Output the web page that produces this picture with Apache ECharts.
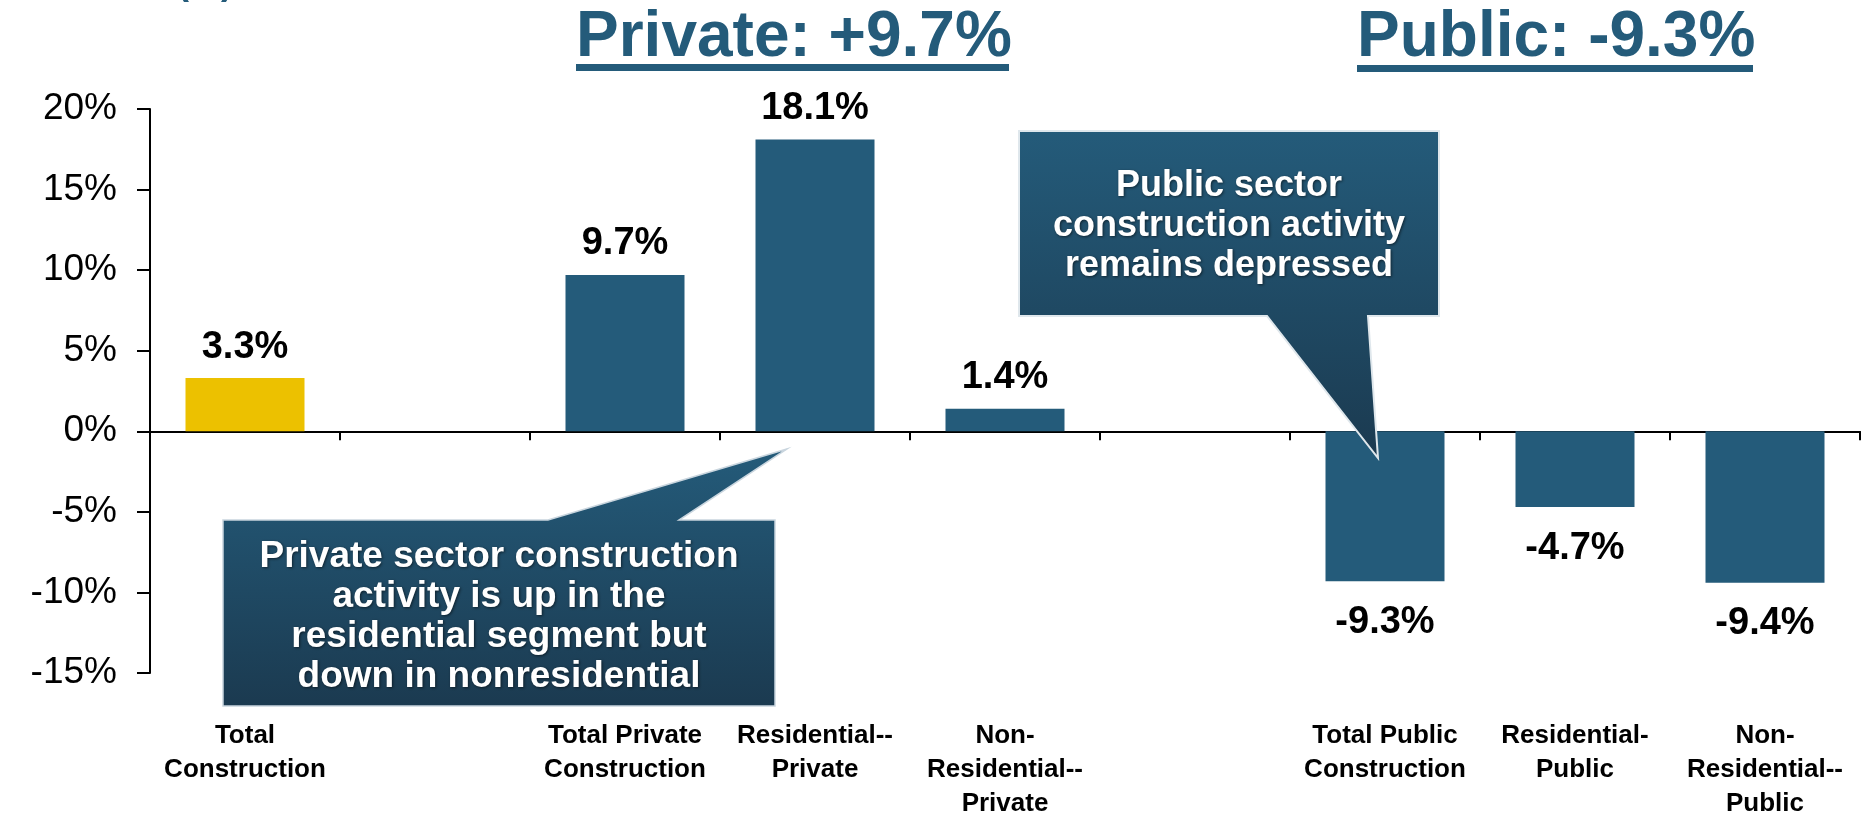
<!DOCTYPE html>
<html>
<head>
<meta charset="utf-8">
<title>Construction spending growth</title>
<script src="https://cdn.jsdelivr.net/npm/echarts@6/dist/echarts.min.js"></script>
<style>
  html, body { margin: 0; padding: 0; background: #fff; }
  #chart { width: 1866px; height: 814px; }
</style>
</head>
<body>
<div id="chart"></div>
<script>
  // data
  var categories = ['Total Construction', 'gap1', 'Total Private Construction', 'Residential--Private',
    'Non-Residential--Private', 'gap2', 'Total Public Construction', 'Residential-Public', 'Non-Residential--Public']
  var tickLabels = ['Total\nConstruction', '', 'Total Private\nConstruction', 'Residential--\nPrivate',
    'Non-\nResidential--\nPrivate', '', 'Total Public\nConstruction', 'Residential-\nPublic', 'Non-\nResidential--\nPublic']
  var growth = [3.3, null, 9.7, 18.1, 1.4, null, -9.3, -4.7, -9.4]
  var yTicks = [-15, -10, -5, 0, 5, 10, 15, 20]
  var headlines = ['Private: +9.7%', 'Public: -9.3%']
  var privateNote = 'Private sector construction\nactivity is up in the\nresidential segment but\ndown in nonresidential'
  var publicNote = 'Public sector\nconstruction activity\nremains depressed'

  var BLUE = '#245b7a'
  var YELLOW = '#ecc100'
  var FONT = '"Liberation Sans", Arial, sans-serif'

  var calloutFill = {
    type: 'linear', x: 0, y: 0, x2: 0, y2: 1,
    colorStops: [{ offset: 0, color: '#245b7a' }, { offset: 1, color: '#1b3a50' }]
  }
  function noteStyle(text, size) {
    return {
      text: text,
      fill: '#fff', font: 'bold ' + size + 'px ' + FONT, lineHeight: 40,
      textAlign: 'center', textVerticalAlign: 'middle',
      textShadowColor: 'rgba(0,0,0,0.55)', textShadowBlur: 3, textShadowOffsetX: 1, textShadowOffsetY: 1
    }
  }

  var chart = echarts.init(document.getElementById('chart'))

  chart.setOption({
    animation: false,
    backgroundColor: '#fff',
    // labels run to the bottom edge, so keep the grid where it is
    grid: { left: 150, right: 6, top: 109, bottom: 141, containLabel: false, outerBoundsMode: 'none' },
    xAxis: [
      {
        // zero line with the category ticks
        type: 'category',
        data: categories,
        position: 'top',
        axisLine: { show: true, onZero: true, lineStyle: { color: '#000', width: 2 } },
        axisTick: { show: true, inside: true, length: 9, interval: 0, lineStyle: { color: '#000', width: 2 } },
        axisLabel: { show: false },
        splitLine: { show: false }
      },
      {
        // category names sit below the plot
        type: 'category',
        data: categories,
        position: 'bottom',
        axisLine: { show: false, onZero: false },
        axisTick: { show: false },
        axisLabel: {
          show: true, interval: 0, margin: 46,
          color: '#000', fontFamily: FONT, fontWeight: 'bold', fontSize: 26, lineHeight: 34,
          formatter: function (v, i) { return tickLabels[i] }
        },
        splitLine: { show: false }
      }
    ],
    yAxis: {
      type: 'value',
      min: yTicks[0],
      max: yTicks[yTicks.length - 1],
      interval: yTicks[1] - yTicks[0],
      axisLine: { show: true, lineStyle: { color: '#000', width: 2 } },
      axisTick: { show: true, length: 13, lineStyle: { color: '#000', width: 2 } },
      axisLabel: { margin: 33, color: '#000', fontFamily: FONT, fontSize: 37, formatter: '{value}%' },
      splitLine: { show: false }
    },
    series: [
      {
        type: 'bar',
        xAxisIndex: 0,
        barWidth: 119,
        data: growth.map(function (v, i) {
          if (v === null) return '-'
          return {
            value: v,
            itemStyle: { color: i === 0 ? YELLOW : BLUE },
            label: { position: v < 0 ? 'bottom' : 'top', distance: v < 0 ? 22 : 12 }
          }
        }),
        label: {
          show: true,
          color: '#000', fontFamily: FONT, fontWeight: 'bold', fontSize: 38,
          formatter: function (p) { return p.value.toFixed(1) + '%' }
        }
      }
    ],
    graphic: [
      // cut-off unit note at the very top
      { type: 'text', left: 177, top: -34, z: 50,
        style: { text: '(%)', fill: BLUE, font: 'bold 36px ' + FONT } },
      // group headlines
      { type: 'text', x: 576, y: 38, z: 50,
        style: { text: headlines[0], fill: BLUE, font: 'bold 64px ' + FONT, textVerticalAlign: 'middle' } },
      { type: 'rect', shape: { x: 576, y: 64, width: 433, height: 7 }, style: { fill: BLUE }, z: 50 },
      { type: 'text', x: 1357, y: 38, z: 50,
        style: { text: headlines[1], fill: BLUE, font: 'bold 64px ' + FONT, textVerticalAlign: 'middle' } },
      { type: 'rect', shape: { x: 1357, y: 65, width: 396, height: 7 }, style: { fill: BLUE }, z: 50 },
      // private callout
      {
        type: 'polygon', z: 100,
        shape: { points: [[223, 520], [548, 520], [787, 449], [679, 520], [775, 520], [775, 706], [223, 706]] },
        style: { fill: calloutFill, stroke: '#c9d5de', lineWidth: 1.5 }
      },
      { type: 'text', x: 499, y: 617, z: 101, style: noteStyle(privateNote, 37) },
      // public callout
      {
        type: 'polygon', z: 100,
        shape: { points: [[1019, 131], [1439, 131], [1439, 316], [1368, 316], [1378, 458], [1267, 316], [1019, 316]] },
        style: { fill: calloutFill, stroke: '#dfe7ec', lineWidth: 2 }
      },
      { type: 'text', x: 1229, y: 226, z: 101, style: noteStyle(publicNote, 36) }
    ]
  })
</script>
</body>
</html>
